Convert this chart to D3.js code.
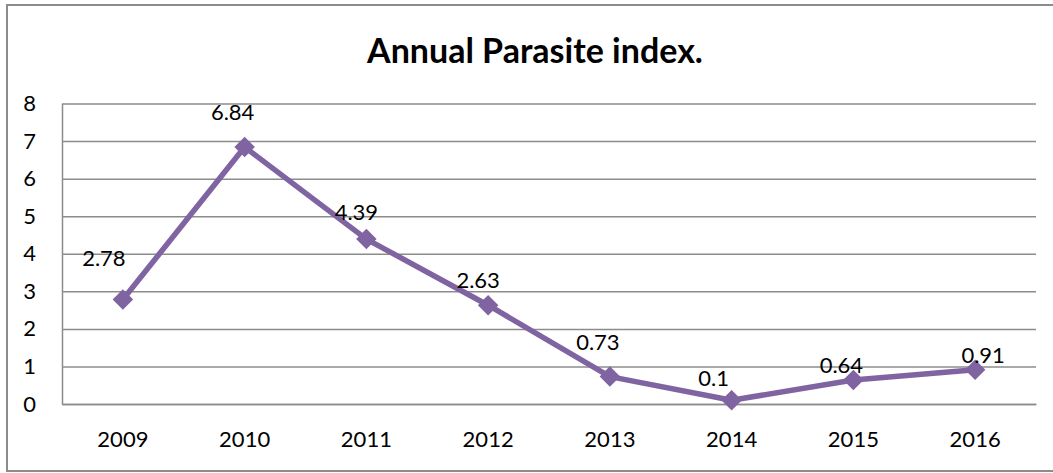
<!DOCTYPE html>
<html>
<head>
<meta charset="utf-8">
<script src="https://cdn.jsdelivr.net/npm/d3@7"></script>
<style>
    body { margin: 0; background: #fff; }
    text { font-family: Lato, "Open Sans", sans-serif; fill: #000; }
    .axis path, .axis line { stroke: #8c8c8c; stroke-width: 1.5; }
    .axis text { font-size: 22px; }
</style>
</head>
<body>
<div id="chart"></div>
<script>

// Chart data
let years = ["2009", "2010", "2011", "2012", "2013", "2014", "2015", "2016"];
let parasiteIndex = [2.78, 6.84, 4.39, 2.63, 0.73, 0.1, 0.64, 0.91];
let yTicks = [0, 1, 2, 3, 4, 5, 6, 7, 8];

// small nudges for the data labels (px, relative to the marker)
let labelNudge = [[-19, -41], [-12, -35], [-10, -27], [-10, -25], [-12, -34], [-18, -22], [-12, -15], [8, -15]];

let W = 1053, H = 473;
let margin = { top: 103.5, right: 17, bottom: 69, left: 62 };
let width = W - margin.left - margin.right,
    height = H - margin.top - margin.bottom;

let root = d3.select("#chart").append("svg")
    .attr("width", W)
    .attr("height", H);

// outer chart border
root.append("rect")
    .attr("x", 7)
    .attr("y", 5)
    .attr("width", W + 10)
    .attr("height", 466)
    .attr("fill", "none")
    .attr("stroke", "#8c8c8c")
    .attr("stroke-width", 2);

// Title
root.append("text")
    .attr("x", 535)
    .attr("y", 63)
    .attr("text-anchor", "middle")
    .style("font-weight", "bold")
    .style("font-size", "34px")
    .text("Annual Parasite index.");

let svg = root.append("g")
    .attr("transform", "translate(" + margin.left + "," + margin.top + ")");

// Scales
let x = d3.scaleBand()
    .domain(years)
    .range([0, width]);

let y = d3.scaleLinear()
    .domain([0, 8])
    .range([height, 0]);

// y axis with gridlines
let yAxis = d3.axisLeft(y)
    .tickValues(yTicks)
    .tickSize(-width)
    .tickSizeOuter(0)
    .tickPadding(26);

svg.append("g")
    .attr("class", "y-axis axis")
    .call(yAxis);

let xAxis = d3.axisBottom(x)
    .tickSize(0)
    .tickPadding(27);

svg.append("g")
    .attr("class", "x-axis axis")
    .attr("transform", "translate(0," + height + ")")
    .call(xAxis);

// Line
let line = d3.line()
    .x(function (d, i) { return x(years[i]) + x.bandwidth() / 2; })
    .y(function (d) { return y(d); });

svg.append("path")
    .datum(parasiteIndex)
    .attr("d", line)
    .attr("fill", "none")
    .attr("stroke", "#8064A2")
    .attr("stroke-width", 5.5)
    .attr("stroke-linejoin", "round");

// Diamond markers
let diamond = d3.symbol().type(d3.symbolSquare).size(210);

svg.selectAll(".marker")
    .data(parasiteIndex)
    .enter().append("path")
    .attr("class", "marker")
    .attr("d", diamond)
    .attr("fill", "#8064A2")
    .attr("transform", function (d, i) {
        return "translate(" + (x(years[i]) + x.bandwidth() / 2) + "," + y(d) + ") rotate(45)";
    });

// Data labels
svg.selectAll(".label")
    .data(parasiteIndex)
    .enter().append("text")
    .attr("class", "label")
    .attr("x", function (d, i) { return x(years[i]) + x.bandwidth() / 2 + labelNudge[i][0]; })
    .attr("y", function (d, i) { return y(d) + labelNudge[i][1]; })
    .attr("dy", "0.35em")
    .attr("text-anchor", "middle")
    .style("font-size", "22px")
    .text(function (d) { return d; });

</script>
</body>
</html>
